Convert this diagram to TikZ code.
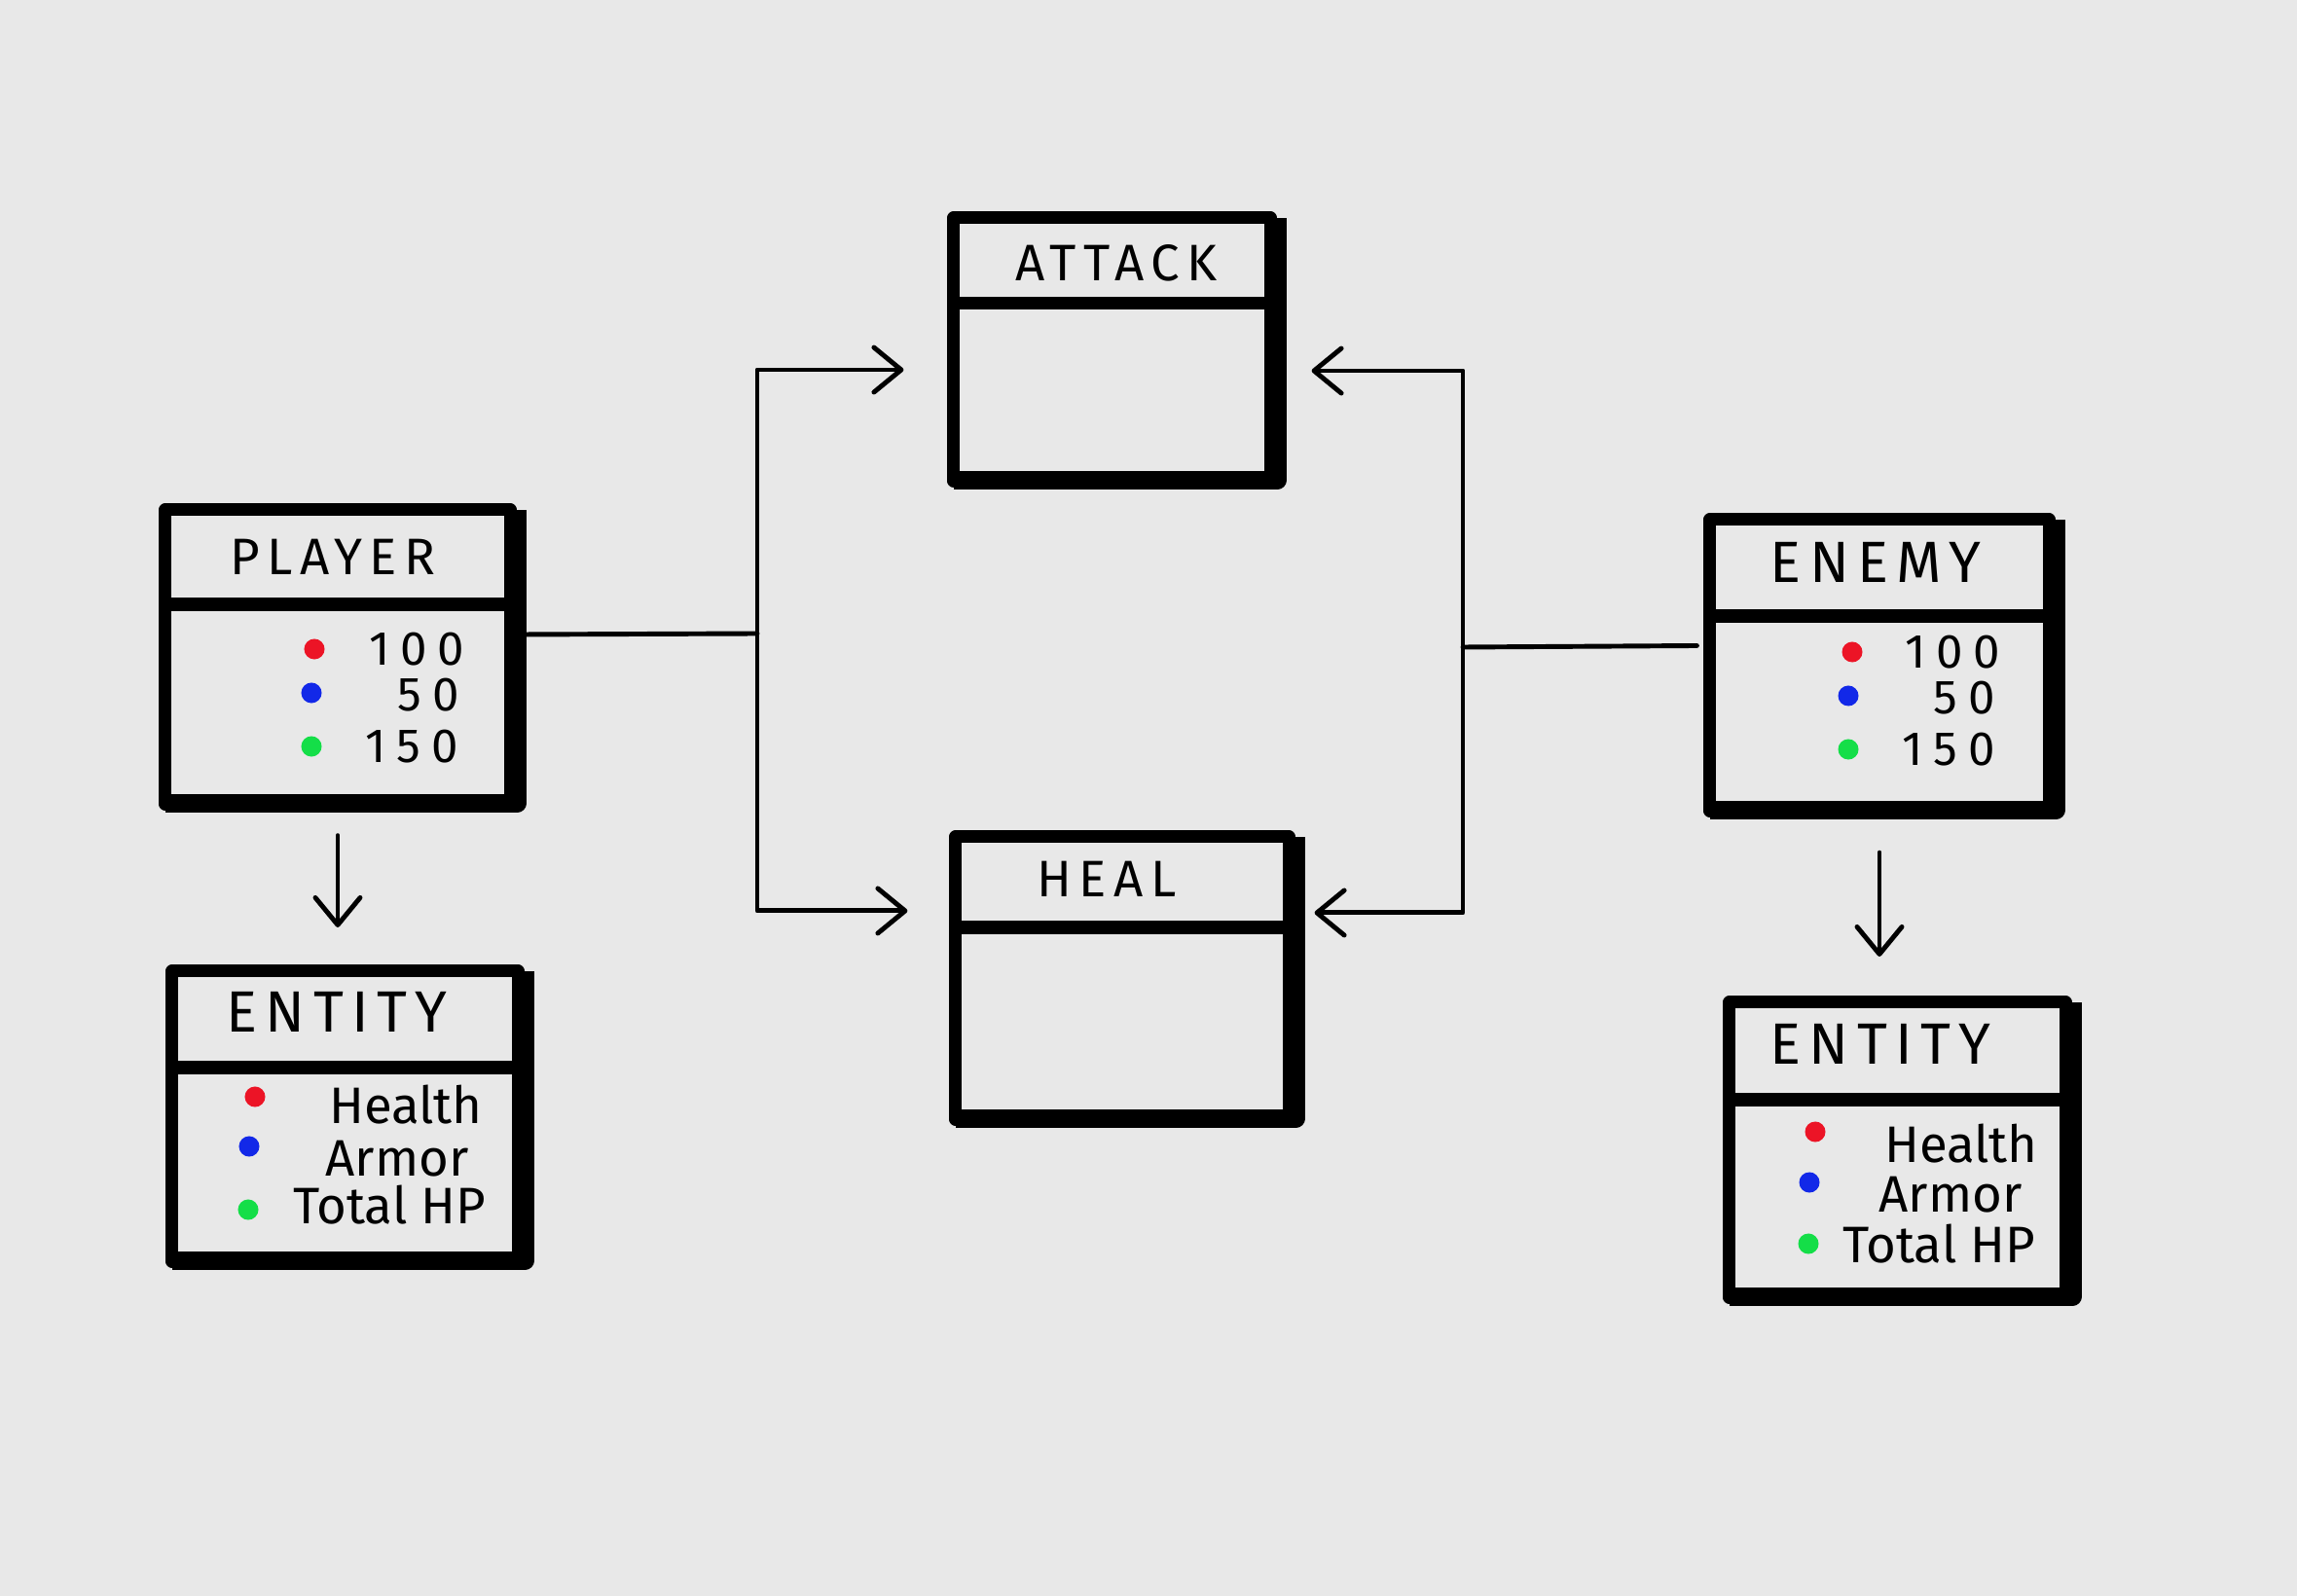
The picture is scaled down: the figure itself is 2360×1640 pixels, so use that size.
\documentclass[tikz,border=0pt]{standalone}
\usepackage{fontspec}
\setmainfont{Fira Sans}
\newfontfamily\titlefont[LetterSpace=14]{Fira Sans}
\newfontfamily\numfont[LetterSpace=22]{Fira Sans}
\usetikzlibrary{arrows.meta}
\definecolor{bg}{RGB}{232,232,232}
\definecolor{dotred}{RGB}{236,20,38}
\definecolor{dotblue}{RGB}{18,40,232}
\definecolor{dotgreen}{RGB}{20,222,72}
\begin{document}
\begin{tikzpicture}[x=0.01cm,y=-0.01cm,
  umlbox/.style={draw=black, line width=3.7pt, rectangle, inner sep=0pt, line join=round},
  divider/.style={line width=3.7pt, line cap=butt},
  heavy/.style={line width=5.4pt, line cap=butt, line join=round},
  bigtitle/.style={font=\titlefont\fontsize{17}{20}\selectfont, inner sep=0pt},
  smalltitle/.style={font=\titlefont\fontsize{15}{18}\selectfont, inner sep=0pt},
  numtext/.style={font=\numfont\fontsize{14}{16}\selectfont, inner sep=0pt},
  fieldtext/.style={font=\fontsize{15}{17}\selectfont, inner sep=0pt},
  conn/.style={line width=1.4pt, line cap=round, line join=round},
  arr/.style={-{Straight Barb[length=0.28cm,width=0.46cm,round]}},
  dot/.style={circle, inner sep=0pt, minimum size=0.21cm}
]
\useasboundingbox (0,0) rectangle (2360,1640);
\fill[bg] (0,0) rectangle (2360,1640);

% ---------- boxes ----------
\node[umlbox, minimum width=3.54cm, minimum height=3.02cm] (player) at (347,675) {};
\node[umlbox, minimum width=3.25cm, minimum height=2.70cm] (attack) at (1142.5,359) {};
\node[umlbox, minimum width=3.42cm, minimum height=2.90cm] (heal) at (1153,1005) {};
\node[umlbox, minimum width=3.55cm, minimum height=2.98cm] (entL) at (354.5,1147) {};
\node[umlbox, minimum width=3.48cm, minimum height=2.99cm] (enemy) at (1931,683.5) {};
\node[umlbox, minimum width=3.45cm, minimum height=3.03cm] (entR) at (1949.5,1181.5) {};

% heavier right and bottom edges (kept inside the box corners)
\foreach \b in {player,attack,heal,entL,enemy,entR}{
  \draw[heavy] ([xshift=0.01cm,yshift=-0.07cm]\b.north east) -- ([xshift=0.01cm,yshift=0.075cm]\b.south east) -- ([xshift=0.07cm,yshift=0.075cm]\b.south west);
}

% dividers
\draw[divider] (player.west |- 0,621) -- (player.east |- 0,621);
\draw[divider] (attack.west |- 0,312) -- (attack.east |- 0,312);
\draw[divider] (heal.west |- 0,953) -- (heal.east |- 0,953);
\draw[divider] (entL.west |- 0,1097) -- (entL.east |- 0,1097);
\draw[divider] (enemy.west |- 0,633) -- (enemy.east |- 0,633);
\draw[divider] (entR.west |- 0,1130) -- (entR.east |- 0,1130);

% titles
\node[smalltitle] (playerT) at (342,572) {PLAYER};
\node[smalltitle] (attackT) at (1147,270) {ATTACK};
\node[smalltitle] (healT) at (1137,903) {HEAL};
\node[bigtitle] (entLT) at (346,1040) {ENTITY};
\node[bigtitle] (enemyT) at (1927,578) {ENEMY};
\node[bigtitle] (entRT) at (1932,1073) {ENTITY};

% player values
\node[dot, fill=dotred] (pd1) at (323,667) {};
\node[dot, fill=dotblue] (pd2) at (320,712) {};
\node[dot, fill=dotgreen] (pd3) at (320,767) {};
\node[numtext] (pv1) at (428,667) {100};
\node[numtext] (pv2) at (440,714) {50};
\node[numtext] (pv3) at (423,767) {150};

% enemy values
\node[dot, fill=dotred] (ed1) at (1903,670) {};
\node[dot, fill=dotblue] (ed2) at (1899,715) {};
\node[dot, fill=dotgreen] (ed3) at (1899,770) {};
\node[numtext] (ev1) at (2006,670) {100};
\node[numtext] (ev2) at (2018,717) {50};
\node[numtext] (ev3) at (2002,770) {150};

% entity left fields
\node[dot, fill=dotred] (ld1) at (262,1127) {};
\node[dot, fill=dotblue] (ld2) at (256,1178) {};
\node[dot, fill=dotgreen] (ld3) at (255,1243) {};
\node[fieldtext] (lf1) at (417,1135) {Health};
\node[fieldtext] (lf2) at (408,1191) {Armor};
\node[fieldtext] (lf3) at (400,1238) {Total HP};

% entity right fields
\node[dot, fill=dotred] (rd1) at (1865,1163) {};
\node[dot, fill=dotblue] (rd2) at (1859,1215) {};
\node[dot, fill=dotgreen] (rd3) at (1858,1278) {};
\node[fieldtext] (rf1) at (2015,1175) {Health};
\node[fieldtext] (rf2) at (2004,1228) {Armor};
\node[fieldtext] (rf3) at (1992,1278) {Total HP};

% ---------- connectors ----------
\coordinate (jl) at (778,651);
\coordinate (jr) at (1503,665);
\coordinate (atkL) at ([xshift=-0.45cm,yshift=-0.21cm]attack.west);
\coordinate (atkR) at ([xshift=0.36cm,yshift=-0.22cm]attack.east);
\coordinate (healL) at ([xshift=-0.43cm,yshift=0.69cm]heal.west);
\coordinate (healR) at ([xshift=0.2cm,yshift=0.67cm]heal.east);

\draw[conn] ([xshift=0.07cm,yshift=0.23cm]player.east) -- (jl);
\draw[conn,arr] (jl) |- (atkL);
\draw[conn,arr] (jl) |- (healL);

\draw[conn] ([xshift=-0.07cm,yshift=0.2cm]enemy.west) -- (jr);
\draw[conn,arr] (jr) |- (atkR);
\draw[conn,arr] (jr) |- (healR);

\draw[conn,arr,shorten <=0.26cm,shorten >=0.385cm] (player.south) -- (player.south |- entL.north);
\draw[conn,arr,shorten <=0.365cm,shorten >=0.405cm] (enemy.south) -- (enemy.south |- entR.north);
\end{tikzpicture}
\end{document}
